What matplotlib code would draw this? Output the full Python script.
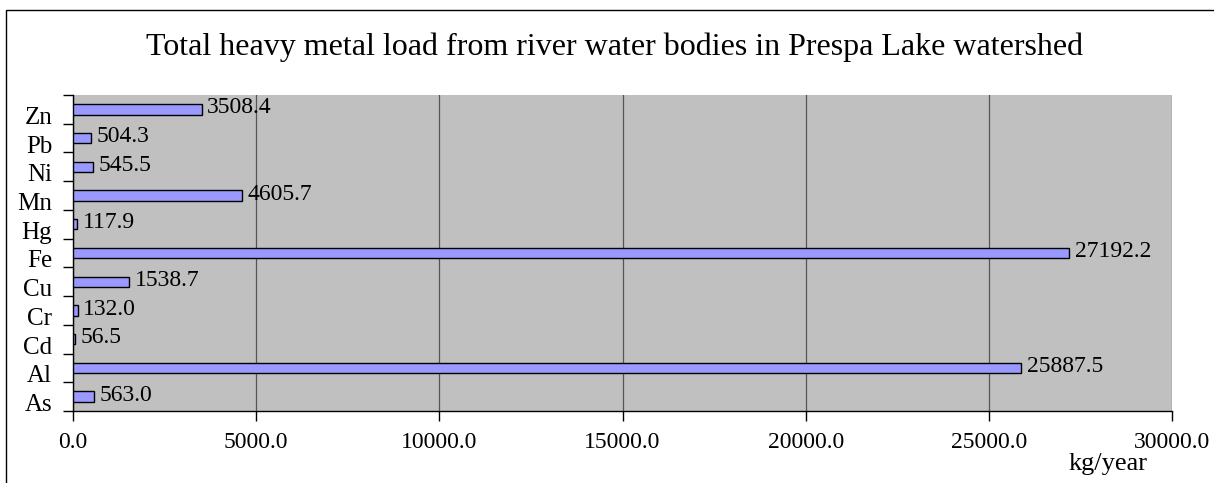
import matplotlib.pyplot as plt
import matplotlib.transforms as mtransforms
from matplotlib.patches import Rectangle

# heavy metal loads, kg/year
metals = ['As', 'Al', 'Cd', 'Cr', 'Cu', 'Fe', 'Hg', 'Mn', 'Ni', 'Pb', 'Zn']
loads = [563.0, 25887.5, 56.5, 132.0, 1538.7, 27192.2, 117.9, 4605.7, 545.5, 504.3, 3508.4]
xticks = [0, 5000, 10000, 15000, 20000, 25000, 30000]

plt.rcParams['font.family'] = ['Liberation Serif', 'DejaVu Serif']

fig = plt.figure(figsize=(12.14, 4.83), dpi=100)
# outer chart border (runs off the right and bottom edges)
fig.patches.append(Rectangle((6 / 1214, -0.1), 1.2, 1.1 - 10 / 483,
                             transform=fig.transFigure, fill=False,
                             edgecolor='black', linewidth=1))

ax = fig.add_axes([73 / 1214, 72 / 483, 1099 / 1214, 316 / 483])
ax.set_facecolor('#C0C0C0')

y = list(range(len(metals)))
ax.barh(y, loads, height=0.36, color='#9999FF', edgecolor='black', linewidth=1, zorder=3)
for yi, v in zip(y, loads):
    ax.text(v + 150, yi + 0.05, '%.1f' % v, va='center', ha='left', fontsize=17, zorder=4)

ax.set_xlim(0, 30000)
ax.set_ylim(-0.5, len(metals) - 0.5)
ax.set_xticks(xticks)
ax.set_xticklabels(['%.1f' % t for t in xticks], fontsize=17)
ax.tick_params(axis='x', direction='out', length=7, width=1, pad=8)
ax.grid(axis='x', color='#555555', linewidth=0.9, zorder=1)

# category boundaries get the ticks, labels sit between them
ax.set_yticks([i - 0.5 for i in range(len(metals) + 1)])
ax.set_yticklabels([''] * (len(metals) + 1))
ax.set_yticks(y, minor=True)
ax.set_yticklabels(metals, minor=True, fontsize=18)
ax.tick_params(axis='y', which='major', direction='out', length=7, width=1)
ax.tick_params(axis='y', which='minor', length=0, pad=15)
off = mtransforms.ScaledTranslation(0, -6 / 100, fig.dpi_scale_trans)
for lab in ax.get_yticklabels(minor=True):
    lab.set_transform(lab.get_transform() + off)

for s in ['top', 'right']:
    ax.spines[s].set_visible(False)
ax.spines['left'].set_linewidth(1)
ax.spines['bottom'].set_linewidth(1)

fig.text(615 / 1214, 1 - 47 / 483, 'Total heavy metal load from river water bodies in Prespa Lake watershed',
         ha='center', va='center', fontsize=23)
fig.text(1108 / 1214, 1 - 464 / 483, 'kg/year', ha='center', va='center', fontsize=19)

fig.savefig('out.png', dpi=100)
